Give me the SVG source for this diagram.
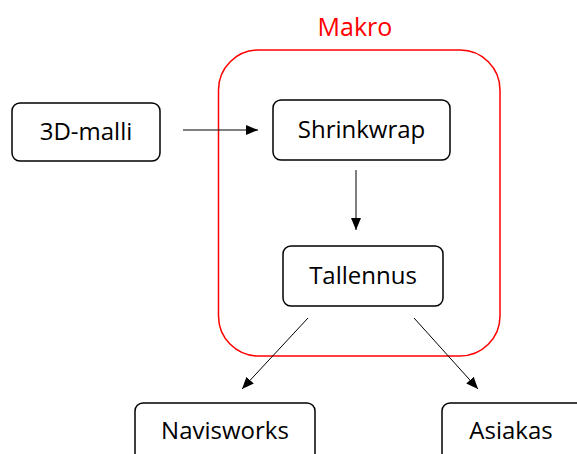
<svg xmlns="http://www.w3.org/2000/svg" width="577" height="454" viewBox="0 0 577 454">
  <defs>
    <marker id="arrow" viewBox="0 0 12 10" refX="12" refY="5" markerWidth="12" markerHeight="10" markerUnits="userSpaceOnUse" orient="auto">
      <path d="M0,0 L12,5 L0,10 Z" fill="#000"/>
    </marker>
    <style>
      .box { fill: #fff; stroke: #000; stroke-width: 1.5; }
      .label { font-family: "Open Sans", "Noto Sans", sans-serif; font-size: 24px; fill: #000; text-anchor: middle; }
      .edge { stroke: #000; stroke-width: 1; fill: none; marker-end: url(#arrow); }
    </style>
  </defs>
  <rect width="577" height="454" fill="#fff"/>

  <!-- macro container -->
  <g id="makro">
    <rect x="218.5" y="50" width="281.5" height="306" rx="40" ry="40" fill="none" stroke="#ff0000" stroke-width="1.5"/>
    <text x="355" y="36" font-family="'Open Sans', 'Noto Sans', sans-serif" font-size="25" fill="#ff0000" text-anchor="middle">Makro</text>
  </g>

  <g id="malli">
    <rect class="box" x="12" y="103" width="148" height="58" rx="8"/>
    <text class="label" x="86" y="140">3D-malli</text>
  </g>

  <g id="shrinkwrap">
    <rect class="box" x="273" y="100" width="177" height="60" rx="8"/>
    <text class="label" x="361.5" y="138">Shrinkwrap</text>
  </g>

  <g id="tallennus">
    <rect class="box" x="283" y="246" width="160" height="60" rx="8"/>
    <text class="label" x="363" y="284">Tallennus</text>
  </g>

  <g id="navisworks">
    <rect class="box" x="135" y="403" width="180" height="70" rx="8"/>
    <text class="label" x="225" y="439">Navisworks</text>
  </g>

  <g id="asiakas">
    <rect class="box" x="442" y="403" width="150" height="70" rx="8"/>
    <text class="label" x="511" y="439">Asiakas</text>
  </g>

  <g id="connectors">
    <line class="edge" x1="183" y1="130" x2="258" y2="130"/>
    <line class="edge" x1="356" y1="170" x2="356" y2="230"/>
    <line class="edge" x1="308" y1="318" x2="242" y2="389"/>
    <line class="edge" x1="414" y1="318" x2="478" y2="389"/>
  </g>
</svg>
